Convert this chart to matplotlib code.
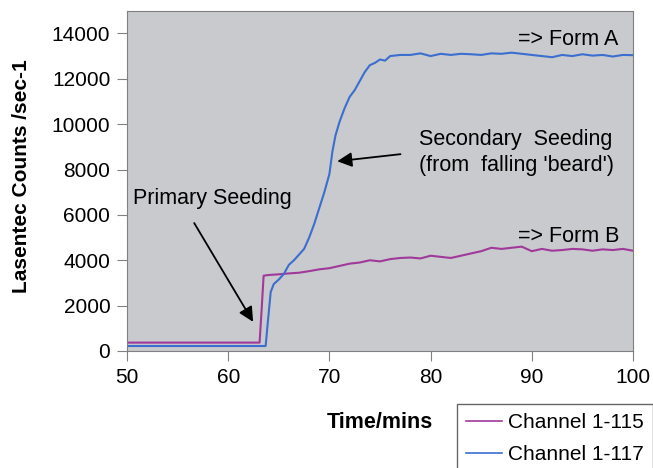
import matplotlib
matplotlib.use('Agg')
from matplotlib import pyplot as plt

plt.rcParams['font.family'] = ['Liberation Sans', 'DejaVu Sans']

# Channel 1-115 (purple) - primary seeding, Form B
t_115 = [50, 63.1, 63.3, 63.5, 64, 65, 66, 67, 68, 69, 70, 71, 72, 73, 74, 75,
         76, 77, 78, 79, 80, 81, 82, 83, 84, 85, 86, 87, 88, 89, 90, 91, 92, 93,
         94, 95, 96, 97, 98, 99, 100]
v_115 = [370, 370, 1800, 3320, 3350, 3380, 3420, 3450, 3520, 3600, 3650, 3750,
         3850, 3900, 4000, 3950, 4050, 4100, 4120, 4080, 4200, 4150, 4100, 4200,
         4300, 4400, 4550, 4500, 4550, 4600, 4400, 4500, 4420, 4450, 4500, 4480,
         4420, 4480, 4450, 4500, 4420]

# Channel 1-117 (blue) - secondary seeding, Form A
t_117 = [50, 63.7, 63.9, 64.2, 64.5, 65.0, 65.5, 66.0, 66.5, 67.0, 67.5, 68.0,
         68.5, 69.0, 69.5, 70.0, 70.3, 70.6, 71.0, 71.5, 72.0, 72.5, 73.0, 73.5,
         74.0, 74.5, 75.0, 75.5, 76.0, 77, 78, 79, 80, 81, 82, 83, 84, 85, 86,
         87, 88, 89, 90, 91, 92, 93, 94, 95, 96, 97, 98, 99, 100]
v_117 = [220, 220, 1200, 2600, 2950, 3150, 3400, 3800, 4000, 4250, 4500, 5000,
         5600, 6300, 7000, 7800, 8800, 9500, 10100, 10700, 11200, 11500, 11900,
         12300, 12600, 12700, 12850, 12800, 13000, 13050, 13050, 13120, 13000,
         13100, 13050, 13100, 13080, 13050, 13120, 13100, 13150, 13100, 13050,
         13000, 12950, 13050, 13000, 13080, 13020, 13050, 12980, 13050, 13040]

W, H = 653, 468
fig = plt.figure(figsize=(W / 100, H / 100), dpi=100)
ax = fig.add_axes([127 / W, 1 - 351 / H, (633 - 127) / W, (351 - 10.7) / H])
ax.set_facecolor('#c8cacd')

l1, = ax.plot(t_115, v_115, color='#a0399a', lw=1.5)
l2, = ax.plot(t_117, v_117, color='#3c6ecf', lw=1.5)

ax.set_xlim(50, 100)
ax.set_ylim(0, 15000)
ax.set_xticks(range(50, 101, 10))
ax.set_yticks(range(0, 14001, 2000))
ax.tick_params(labelsize=15, direction='out', length=7, color='#808080', pad=5)
for s in ax.spines.values():
    s.set_color('#808080')

# annotations
ax.text(88.6, 13730, '=> Form A', fontsize=15.5, va='center')
ax.text(88.6, 5040, '=> Form B', fontsize=15.5, va='center')
ax.text(78.9, 8750, "Secondary  Seeding\n(from  falling 'beard')", fontsize=15.5,
        va='center', ha='left', linespacing=1.3)
ax.text(50.6, 6700, 'Primary Seeding', fontsize=15.5, va='center')
ax.annotate('', xy=(70.5, 8350), xytext=(77.3, 8690),
            arrowprops=dict(arrowstyle='-|>', color='black', lw=1.3, mutation_scale=22))
ax.annotate('', xy=(62.6, 1180), xytext=(56.5, 5745),
            arrowprops=dict(arrowstyle='-|>', color='black', lw=1.3, mutation_scale=22))

fig.text(22 / W, 1 - 176 / H, 'Lasentec Counts /sec-1', rotation=90,
         fontsize=15, fontweight='bold', ha='center', va='center')
fig.text(380 / W, 1 - 422 / H, 'Time/mins', fontsize=15.5, fontweight='bold',
         ha='center', va='center')

leg = fig.legend([l1, l2], ['Channel 1-115', 'Channel 1-117'],
                 loc='upper left', bbox_to_anchor=(457 / W, 1 - 404 / H),
                 fontsize=15, frameon=True, fancybox=False, handlelength=1.7,
                 handletextpad=0.3, borderaxespad=0, borderpad=0.45,
                 labelspacing=0.6)
leg.get_frame().set_edgecolor('#404040')
leg.get_frame().set_linewidth(1)
for h in leg.get_lines():
    h.set_linewidth(1.2)

fig.savefig('out.png', dpi=100)
